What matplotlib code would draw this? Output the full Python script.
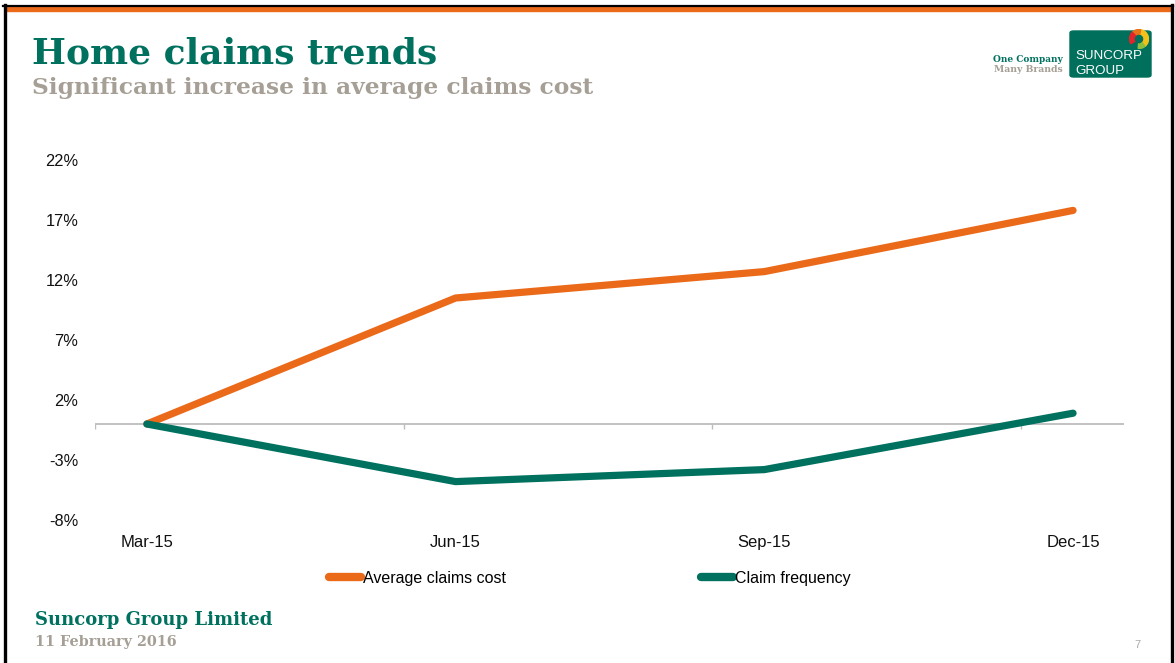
import matplotlib as mpl
mpl.use('Agg')
import matplotlib.pyplot as plt
from matplotlib.patches import Rectangle, FancyBboxPatch, Wedge
from matplotlib.lines import Line2D

# data (% change vs Mar-15)
quarters = ['Mar-15', 'Jun-15', 'Sep-15', 'Dec-15']
avg_claims_cost = [0.0, 10.5, 12.7, 17.8]
claim_frequency = [0.0, -4.8, -3.8, 0.9]
y_ticks = [-8, -3, 2, 7, 12, 17, 22]

ORANGE = '#EA6A1A'
TEAL = '#00715F'
GREY = '#A59F95'

W, H = 1175, 663
fig = plt.figure(figsize=(W / 100, H / 100), dpi=100)
fig.patch.set_facecolor('white')

def px(x, y):
    return x / W, 1 - y / H

# slide frame
fig.add_artist(Line2D([4.5 / W, 4.5 / W], [0, 1 - 5 / H], color='black', lw=2.4, transform=fig.transFigure))
fig.add_artist(Line2D([1171.5 / W, 1171.5 / W], [0, 1 - 5 / H], color='black', lw=2.4, transform=fig.transFigure))
fig.add_artist(Line2D([3 / W, 1173 / W], [1 - 5.5 / H, 1 - 5.5 / H], color='black', lw=1.6, transform=fig.transFigure))
fig.add_artist(Rectangle(px(6, 11), 1165 / W, 4.5 / H, color=ORANGE, transform=fig.transFigure))

# chart
ax = fig.add_axes([95 / W, (H - 520) / H, (1124 - 95) / W, 360 / H])
x = list(range(len(quarters)))
ax.plot(x, avg_claims_cost, color=ORANGE, lw=5.2, solid_capstyle='round', solid_joinstyle='round',
        label='Average claims cost', zorder=3)
ax.plot(x, claim_frequency, color=TEAL, lw=5.2, solid_capstyle='round', solid_joinstyle='round',
        label='Claim frequency', zorder=3)
ax.axhline(0, color='#BDBDBD', lw=1.3, zorder=1)
minor = [k - 0.168 for k in range(4)]
ax.vlines(minor, -0.4, 0, color='#BDBDBD', lw=1.0, zorder=1)
ax.set_xlim(-0.168, 3.165)
ax.set_ylim(-8, 22)
ax.set_xticks(x)
ax.set_xticklabels(quarters)
ax.set_yticks(y_ticks)
ax.set_yticklabels(['%d%%' % v for v in y_ticks])
for s in ax.spines.values():
    s.set_visible(False)
ax.tick_params(axis='x', length=0, pad=11, labelsize=12, labelcolor='#111111')
ax.tick_params(axis='y', length=0, pad=12, labelsize=11.8, labelcolor='#111111')
for lab in ax.get_xticklabels() + ax.get_yticklabels():
    lab.set_family('Liberation Sans')

leg = fig.legend(loc='center', bbox_to_anchor=(590 / W, 1 - 578 / H), ncol=2, frameon=False,
                 handlelength=2.0, handletextpad=0.15, columnspacing=12.2,
                 prop={'family': 'Liberation Sans', 'size': 11.5})
for h in leg.legend_handles:
    h.set_linewidth(6)
    h.set_solid_capstyle('round')

# titles and footer
r = fig.canvas.get_renderer()

def fit(t, width):
    w = t.get_window_extent(r).width
    t.set_fontsize(t.get_fontsize() * width / w)

serif = 'DejaVu Serif'
t1 = fig.text(*px(32, 63), 'Home claims trends', family=serif, weight='bold', color=TEAL, size=26, va='baseline')
fit(t1, 405)
t2 = fig.text(*px(32, 94), 'Significant increase in average claims cost', family=serif, weight='bold',
              color=GREY, size=18, va='baseline')
fit(t2, 562)
t3 = fig.text(*px(35, 625), 'Suncorp Group Limited', family=serif, weight='bold', color=TEAL, size=13, va='baseline')
fit(t3, 237)
t4 = fig.text(*px(35, 646), '11 February 2016', family=serif, weight='bold', color=GREY, size=11, va='baseline')
fit(t4, 141)
fig.text(*px(1137, 648), '7', family='Liberation Sans', color='#AAAAAA', size=8, ha='center', va='baseline')

# logo
t5 = fig.text(*px(1063, 62), 'One Company', family=serif, weight='bold', color=TEAL, size=7, ha='right', va='baseline')
fit(t5, 70)
t6 = fig.text(*px(1063, 72), 'Many Brands', family=serif, weight='bold', color=GREY, size=7, ha='right', va='baseline')
fit(t6, 69)
fig.add_artist(FancyBboxPatch(px(1070, 77), 81 / W, 46 / H, boxstyle='round,pad=0,rounding_size=0.003',
                              color='#006F5B', transform=fig.transFigure))
t7 = fig.text(*px(1075, 59), 'SUNCORP', family='Liberation Sans', color='white', size=10.5, va='baseline')
fit(t7, 67)
t8 = fig.text(*px(1075, 74), 'GROUP', family='Liberation Sans', color='white', size=t7.get_fontsize(), va='baseline')
lax = fig.add_axes([1129 / W, 1 - 49 / H, 20 / W, 20 / H])
lax.set_zorder(5)
lax.set_xlim(-1, 1)
lax.set_ylim(-1, 1)
lax.axis('off')
lax.add_patch(Wedge((0, 0), 0.95, -50, 80, width=0.45, color='#F2C21B'))
lax.add_patch(Wedge((0, 0), 0.95, 80, 135, width=0.45, color='#E8731B'))
lax.add_patch(Wedge((0, 0), 0.95, 135, 210, width=0.45, color='#E2252B'))
lax.add_patch(Wedge((0, 0), 0.95, -95, -50, width=0.45, color='#8DBE3F'))

fig.savefig('out.png', dpi=100, facecolor='white')
